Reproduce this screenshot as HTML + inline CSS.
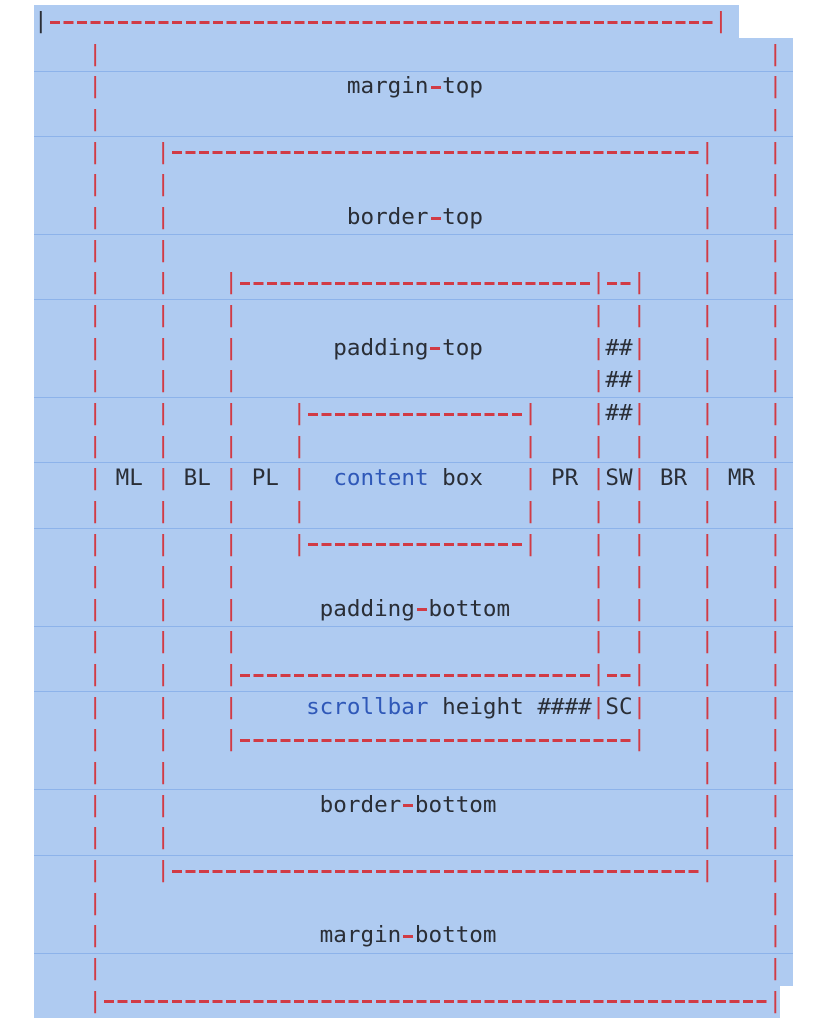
<!DOCTYPE html>
<html><head><meta charset="utf-8"><style>
html,body{margin:0;padding:0;background:#fff;width:823px;height:1024px;overflow:hidden;position:relative}
.bg{position:absolute;background:#afcbf1}
.sep{position:absolute;left:34px;width:759px;height:1px;background:#8db3ea}
pre{position:absolute;left:34px;top:5px;margin:0;font-family:"DejaVu Sans Mono","Liberation Mono",monospace;font-size:22.6px;line-height:32.65px;color:#d13b45;white-space:pre}
.t{color:#2a2e36}.b{color:#2f58b8}
.d{color:transparent;background-image:repeating-linear-gradient(to right,transparent 0 1.8px,#d13b45 1.8px 11.8px,transparent 11.8px 13.6px);background-repeat:no-repeat;background-size:100% 3px;background-position:0 55%}
</style></head><body>
<div class="bg" style="left:34px;top:5px;width:705px;height:34px"></div>
<div class="bg" style="left:34px;top:38px;width:759px;height:948px"></div>
<div class="bg" style="left:34px;top:985px;width:746px;height:33px"></div>
<div class="sep" style="top:71px"></div><div class="sep" style="top:136px"></div><div class="sep" style="top:234px"></div><div class="sep" style="top:299px"></div><div class="sep" style="top:397px"></div><div class="sep" style="top:462px"></div><div class="sep" style="top:528px"></div><div class="sep" style="top:626px"></div><div class="sep" style="top:691px"></div><div class="sep" style="top:789px"></div><div class="sep" style="top:855px"></div><div class="sep" style="top:953px"></div>
<pre><span class="t">|</span><span class="d">-------------------------------------------------</span>|
    |                                                 |
    |                  <span class="t">margin</span><span class="d">-</span><span class="t">top</span>                     |
    |                                                 |
    |    |<span class="d">---------------------------------------</span>|    |
    |    |                                       |    |
    |    |             <span class="t">border</span><span class="d">-</span><span class="t">top</span>                |    |
    |    |                                       |    |
    |    |    |<span class="d">--------------------------</span>|<span class="d">--</span>|    |    |
    |    |    |                          |  |    |    |
    |    |    |       <span class="t">padding</span><span class="d">-</span><span class="t">top</span>        |<span class="t">##</span>|    |    |
    |    |    |                          |<span class="t">##</span>|    |    |
    |    |    |    |<span class="d">----------------</span>|    |<span class="t">##</span>|    |    |
    |    |    |    |                |    |  |    |    |
    | <span class="t">ML</span> | <span class="t">BL</span> | <span class="t">PL</span> |  <span class="b">content</span> <span class="t">box</span>   | <span class="t">PR</span> |<span class="t">SW</span>| <span class="t">BR</span> | <span class="t">MR</span> |
    |    |    |    |                |    |  |    |    |
    |    |    |    |<span class="d">----------------</span>|    |  |    |    |
    |    |    |                          |  |    |    |
    |    |    |      <span class="t">padding</span><span class="d">-</span><span class="t">bottom</span>      |  |    |    |
    |    |    |                          |  |    |    |
    |    |    |<span class="d">--------------------------</span>|<span class="d">--</span>|    |    |
    |    |    |     <span class="b">scrollbar</span> <span class="t">height ####</span>|<span class="t">SC</span>|    |    |
    |    |    |<span class="d">-----------------------------</span>|    |    |
    |    |                                       |    |
    |    |           <span class="t">border</span><span class="d">-</span><span class="t">bottom</span>               |    |
    |    |                                       |    |
    |    |<span class="d">---------------------------------------</span>|    |
    |                                                 |
    |                <span class="t">margin</span><span class="d">-</span><span class="t">bottom</span>                    |
    |                                                 |
    |<span class="d">-------------------------------------------------</span>|</pre>
</body></html>
